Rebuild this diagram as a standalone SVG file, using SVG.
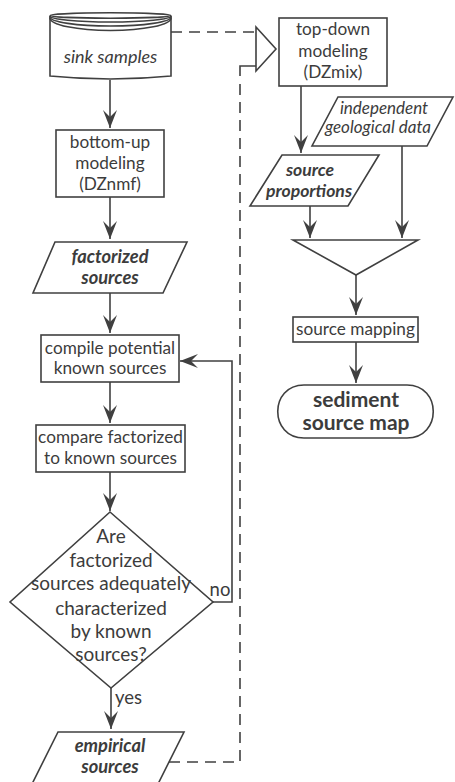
<svg xmlns="http://www.w3.org/2000/svg" width="455" height="782" viewBox="0 0 455 782">
<style>
.s{fill:#fff;stroke:#404040;stroke-width:1.6}
.c{fill:none;stroke:#404040;stroke-width:1.6}
.d{fill:none;stroke:#404040;stroke-width:1.6;stroke-dasharray:11 7}
text{font-family:"Lato","Liberation Sans",sans-serif;fill:#3c3c3c;text-anchor:middle;font-size:17.2px}
.i{font-style:italic}
.bi{font-style:italic;font-weight:bold;font-size:18.3px}
.q{font-size:19px}
.l{font-size:18.5px}
.b{font-weight:bold;font-size:21px}
</style>
<defs>
<marker id="ah" markerUnits="userSpaceOnUse" viewBox="-20 -10 22 20" refX="0" refY="0" markerWidth="22" markerHeight="20" orient="auto">
<path d="M0,0 L-18,-7 L-11,0 L-18,7 Z" fill="#404040"/>
</marker>
</defs>
<rect width="455" height="782" fill="#fff"/>
<g id="connectors">
<path class="c" d="M110,80 V128" marker-end="url(#ah)"/>
<path class="c" d="M110,197 V239" marker-end="url(#ah)"/>
<path class="c" d="M110,293 V333" marker-end="url(#ah)"/>
<path class="c" d="M110,382 V423" marker-end="url(#ah)"/>
<path class="c" d="M110,472 V511" marker-end="url(#ah)"/>
<path class="c" d="M111,688 V729" marker-end="url(#ah)"/>
<path class="c" d="M213,602 H232 V361 H180" marker-end="url(#ah)"/>
<path class="d" d="M171,32 H256"/>
<path class="c" d="M240,76 V66 H256"/>
<path class="d" d="M240,84 V762 H168"/>
<path class="c" d="M301,86 V153" marker-end="url(#ah)"/>
<path class="c" d="M402,146 V238" marker-end="url(#ah)"/>
<path class="c" d="M310,206 V238" marker-end="url(#ah)"/>
<path class="c" d="M356,275 V315" marker-end="url(#ah)"/>
<path class="c" d="M356,342 V383" marker-end="url(#ah)"/>
<text class="l" x="220" y="596">no</text>
<text class="l" x="128.5" y="704">yes</text>
</g>
<g id="sink">
<path class="s" d="M50,16 V76 Q110.5,82 171,76 V16"/>
<ellipse class="s" cx="110.5" cy="15.5" rx="60.5" ry="2.7"/>
<path class="c" d="M50,16 A60.5,6 0 0 0 171,16"/>
<path class="c" d="M50,17 A60.5,9 0 0 0 171,17"/>
<path class="c" d="M50,18 A60.5,12.5 0 0 0 171,18"/>
<text class="i" x="110.5" y="63" style="font-size:18px">sink samples</text>
</g>
<g id="bottomup">
<rect class="s" x="56" y="130" width="108" height="67"/>
<text x="110" y="148">bottom-up</text>
<text x="110" y="169">modeling</text>
<text x="110" y="190">(DZnmf)</text>
</g>
<g id="factorized">
<polygon class="s" points="55,242 187,242 163,293 33,293"/>
<text class="bi" x="110" y="263">factorized</text>
<text class="bi" x="110" y="284">sources</text>
</g>
<g id="compile">
<rect class="s" x="41" y="335" width="138" height="47"/>
<text x="110" y="354">compile potential</text>
<text x="110" y="374">known sources</text>
</g>
<g id="compare">
<rect class="s" x="36" y="425" width="149" height="47"/>
<text x="110.5" y="443">compare factorized</text>
<text x="110.5" y="464">to known sources</text>
</g>
<g id="decision">
<polygon class="s" points="110,512 213,602 111,688 10,602"/>
<text class="q" x="111" y="543">Are</text>
<text class="q" x="111" y="567">factorized</text>
<text class="q" x="111" y="590">sources adequately</text>
<text class="q" x="111" y="615">characterized</text>
<text class="q" x="111" y="638">by known</text>
<text class="q" x="111" y="661">sources?</text>
</g>
<g id="empirical">
<polygon class="s" points="58,732 184,732 158,784 32,784"/>
<text class="bi" x="110" y="752">empirical</text>
<text class="bi" x="110" y="773">sources</text>
</g>
<g id="merge">
<polygon class="s" points="256,27 276,49 256,71"/>
</g>
<g id="topdown">
<rect class="s" x="279" y="18" width="108" height="68"/>
<text x="333" y="35">top-down</text>
<text x="333" y="57">modeling</text>
<text x="333" y="78">(DZmix)</text>
</g>
<g id="independent">
<polygon class="s" points="338,97 453,97 427,146 312,146"/>
<text class="i" x="384" y="114" style="font-size:17px">independent</text>
<text class="i" x="378" y="133" style="font-size:17px">geological data</text>
</g>
<g id="proportions">
<polygon class="s" points="282,155 379,155 348,206 250,206"/>
<text class="bi" x="310" y="176" style="font-size:17.6px">source</text>
<text class="bi" x="309" y="197" style="font-size:17.6px">proportions</text>
</g>
<g id="funnel">
<polygon class="s" points="293,240 418,240 356,275"/>
</g>
<g id="mapping">
<rect class="s" x="293" y="317" width="125" height="25"/>
<text x="355.5" y="335">source mapping</text>
</g>
<g id="sediment">
<path class="s" d="M304,385 H407 C442,385 442,438 407,438 H304 C269,438 269,385 304,385 Z"/>
<text class="b" x="356" y="407">sediment</text>
<text class="b" x="356" y="430">source map</text>
</g>
</svg>
